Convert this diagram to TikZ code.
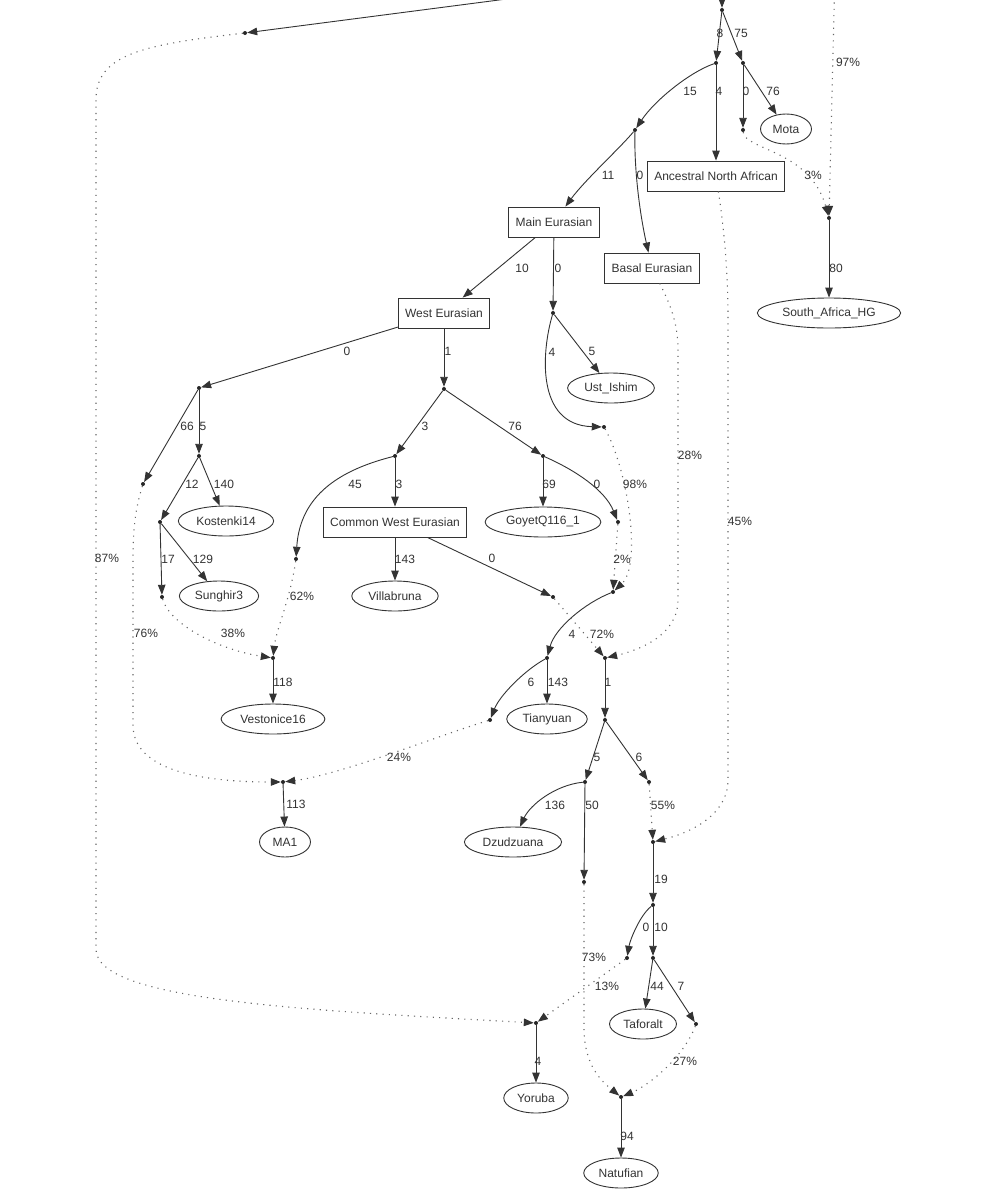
\documentclass[tikz,border=0pt]{standalone}
\usepackage{fontspec}
\setmainfont{Liberation Sans}
\usetikzlibrary{shapes.geometric, arrows.meta}

\begin{document}
\begin{tikzpicture}[
    x=1pt, y=-1pt,
    font=\fontsize{12}{14}\selectfont,
    box/.style={rectangle, draw=black!80, line width=0.9pt, inner xsep=6.8pt, minimum height=30pt, text=black!80},
    pop/.style={ellipse, draw=black!80, line width=0.9pt, inner xsep=4pt, inner ysep=0pt, minimum width=51pt, minimum height=30pt, text=black!80},
    pt/.style={circle, fill=black!85, inner sep=0pt, minimum size=4pt},
    arrow/.style={-{Triangle[length=10pt, width=7.5pt]}, line width=0.9pt, draw=black!80},
    mix/.style={-{Triangle[length=10pt, width=7.5pt, color=black!80]}, draw=black!60, line width=1.1pt, dash pattern=on 1.1pt off 5.2pt},
    lbl/.style={inner sep=0pt, text=black!80},
]
\useasboundingbox[fill=white] (0,0) rectangle (1004,1200);
\clip (0,0) rectangle (1004,1200);

% groups and samples
\node[box] (ana)     at (716,176) {Ancestral North African};
\node[box] (maineur) at (554,222) {Main Eurasian};
\node[box] (basal)   at (652,268) {Basal Eurasian};
\node[box] (westeur) at (444,313) {West Eurasian};
\node[box] (cwe)     at (395,522) {Common West Eurasian};
\node[pop] (mota)  at (786,129)  {Mota};
\node[pop] (sahg)  at (829,313)  {South\_Africa\_HG};
\node[pop] (ust)   at (611,388)  {Ust\_Ishim};
\node[pop] (goyet) at (543,522)  {GoyetQ116\_1};
\node[pop] (kost)  at (226,521)  {Kostenki14};
\node[pop] (sung)  at (219,596)  {Sunghir3};
\node[pop] (villa) at (395,596)  {Villabruna};
\node[pop] (vest)  at (273,719)  {Vestonice16};
\node[pop] (tian)  at (547,719)  {Tianyuan};
\node[pop] (ma1)   at (285,842)  {MA1};
\node[pop] (dzud)  at (513,842)  {Dzudzuana};
\node[pop] (taf)   at (643,1024) {Taforalt};
\node[pop] (yor)   at (536,1098) {Yoruba};
\node[pop] (nat)   at (621,1173) {Natufian};

% split points
\coordinate (up1) at (722,-29);
\coordinate (up2) at (835,-29);
\node[pt] (r0)  at (722,10) {};
\node[pt] (t1)  at (245,33) {};
\node[pt] (j1)  at (716,63) {};
\node[pt] (j2)  at (743,63) {};
\node[pt] (j3)  at (635,130) {};
\node[pt] (j4)  at (743,130) {};
\node[pt] (j5)  at (553,313) {};
\node[pt] (j6)  at (604,427) {};
\node[pt] (j7)  at (444,389) {};
\node[pt] (j8)  at (199,388) {};
\node[pt] (j9)  at (395,456) {};
\node[pt] (j10) at (543,456) {};
\node[pt] (j11) at (618,522) {};
\node[pt] (j12) at (553,597) {};
\node[pt] (j13) at (547,658) {};
\node[pt] (j14) at (143,484) {};
\node[pt] (j15) at (199,456) {};
\node[pt] (j16) at (160,522) {};
\node[pt] (j17) at (162,597) {};
\node[pt] (j18) at (296,559) {};
\node[pt] (j19) at (490,720) {};
\node[pt] (j20) at (605,720) {};
\node[pt] (j21) at (585,782) {};
\node[pt] (j22) at (649,782) {};
\node[pt] (j23) at (584,882) {};
\node[pt] (j24) at (653,905) {};
\node[pt] (j25) at (627,958) {};
\node[pt] (j26) at (653,958) {};
\node[pt] (j27) at (696,1024) {};

% admixture points
\node[pt] (mxS) at (829,218) {};
\node[pt] (mxA) at (613,592) {};
\node[pt] (mxB) at (605,658) {};
\node[pt] (mxV) at (273,658) {};
\node[pt] (mxM) at (283,782) {};
\node[pt] (mxC) at (653,842) {};
\node[pt] (mxY) at (536,1023) {};
\node[pt] (mxN) at (621,1097) {};

% tree edges
\draw[arrow] (up1) -- (r0);
\draw[arrow] (up1) -- (t1);
\draw[arrow] (r0) -- (j1) node[lbl] at (720,33) {8};
\draw[arrow] (r0) -- (j2) node[lbl] at (741,33) {75};
\draw[arrow] (j1) .. controls (690,72) and (655,100) .. (j3) node[lbl] at (690,91) {15};
\draw[arrow] (j1) -- (ana) node[lbl] at (719,91) {4};
\draw[arrow] (j2) -- (j4) node[lbl] at (746,91) {0};
\draw[arrow] (j2) -- (mota) node[lbl] at (773,91) {76};
\draw[arrow] (j3) .. controls (620,148) and (585,180) .. (maineur) node[lbl] at (608,175) {11};
\draw[arrow] (j3) .. controls (634,170) and (640,215) .. (basal) node[lbl] at (640,175) {0};
\draw[arrow] (mxS) -- (sahg) node[lbl] at (836,268) {80};
\draw[arrow] (maineur) -- (westeur) node[lbl] at (522,268) {10};
\draw[arrow] (maineur) -- (j5) node[lbl] at (558,268) {0};
\draw[arrow] (j5) .. controls (542,350) and (535,425) .. (j6) node[lbl] at (552,352) {4};
\draw[arrow] (j5) -- (ust) node[lbl] at (592,351) {5};
\draw[arrow] (westeur) -- (j8) node[lbl] at (347,351) {0};
\draw[arrow] (westeur) -- (j7) node[lbl] at (448,351) {1};
\draw[arrow] (j8) -- (j14) node[lbl] at (187,426) {66};
\draw[arrow] (j8) -- (j15) node[lbl] at (203,426) {5};
\draw[arrow] (j15) -- (j16) node[lbl] at (192,484) {12};
\draw[arrow] (j15) -- (kost) node[lbl] at (224,484) {140};
\draw[arrow] (j16) -- (j17) node[lbl] at (168,559) {17};
\draw[arrow] (j16) -- (sung) node[lbl] at (203,559) {129};
\draw[arrow] (j7) -- (j9) node[lbl] at (425,426) {3};
\draw[arrow] (j7) -- (j10) node[lbl] at (515,426) {76};
\draw[arrow] (j9) .. controls (340,470) and (300,495) .. (j18) node[lbl] at (355,484) {45};
\draw[arrow] (j9) -- (cwe) node[lbl] at (399,484) {3};
\draw[arrow] (cwe) -- (villa) node[lbl] at (405,559) {143};
\draw[arrow] (cwe) -- (j12) node[lbl] at (492,558) {0};
\draw[arrow] (j10) -- (goyet) node[lbl] at (549,484) {69};
\draw[arrow] (j10) .. controls (575,470) and (605,490) .. (j11) node[lbl] at (597,484) {0};
\draw[arrow] (mxA) .. controls (585,603) and (555,628) .. (j13) node[lbl] at (572,634) {4};
\draw[arrow] (mxV) -- (vest) node[lbl] at (283,682) {118};
\draw[arrow] (j13) .. controls (525,670) and (500,695) .. (j19) node[lbl] at (531,682) {6};
\draw[arrow] (j13) -- (tian) node[lbl] at (558,682) {143};
\draw[arrow] (mxM) -- (ma1) node[lbl] at (296,804) {113};
\draw[arrow] (mxB) -- (j20) node[lbl] at (608,682) {1};
\draw[arrow] (j20) -- (j21) node[lbl] at (597,757) {5};
\draw[arrow] (j20) -- (j22) node[lbl] at (639,757) {6};
\draw[arrow] (j21) .. controls (555,785) and (530,805) .. (dzud) node[lbl] at (555,805) {136};
\draw[arrow] (j21) -- (j23) node[lbl] at (592,805) {50};
\draw[arrow] (mxC) -- (j24) node[lbl] at (661,879) {19};
\draw[arrow] (j24) .. controls (640,915) and (630,940) .. (j25) node[lbl] at (646,927) {0};
\draw[arrow] (j24) -- (j26) node[lbl] at (661,927) {10};
\draw[arrow] (j26) -- (taf) node[lbl] at (657,986) {44};
\draw[arrow] (j26) -- (j27) node[lbl] at (681,986) {7};
\draw[arrow] (mxY) -- (yor) node[lbl] at (538,1061) {4};
\draw[arrow] (mxN) -- (nat) node[lbl] at (627,1136) {94};

% admixture edges
\draw[mix] (up2) -- (mxS) node[lbl] at (848,62) {97\%};
\draw[mix] (j4) .. controls (745,150) and (810,150) .. (mxS) node[lbl] at (813,175) {3\%};
\draw[mix] (ana) .. controls (722,215) and (728,260) .. (728,320) -- (728,780) .. controls (728,810) and (700,830) .. (mxC) node[lbl] at (740,521) {45\%};
\draw[mix] (basal) .. controls (668,300) and (678,320) .. (678,350) -- (678,600) .. controls (678,635) and (640,650) .. (mxB) node[lbl] at (690,455) {28\%};
\draw[mix] (j6) .. controls (628,470) and (642,565) .. (mxA) node[lbl] at (635,484) {98\%};
\draw[mix] (j11) -- (mxA) node[lbl] at (622,559) {2\%};
\draw[mix] (j12) -- (mxB) node[lbl] at (602,634) {72\%};
\draw[mix] (t1) .. controls (140,45) and (96,55) .. (96,100) -- (96,950) .. controls (98,1000) and (300,1010) .. (mxY) node[lbl] at (107,558) {87\%};
\draw[mix] (j14) .. controls (135,510) and (133,530) .. (133,560) -- (133,725) .. controls (133,770) and (200,782) .. (mxM) node[lbl] at (146,633) {76\%};
\draw[mix] (j17) .. controls (170,625) and (220,650) .. (mxV) node[lbl] at (233,633) {38\%};
\draw[mix] (j18) .. controls (290,600) and (276,630) .. (mxV) node[lbl] at (302,596) {62\%};
\draw[mix] (j19) .. controls (440,735) and (340,775) .. (mxM) node[lbl] at (399,757) {24\%};
\draw[mix] (j22) -- (mxC) node[lbl] at (663,805) {55\%};
\draw[mix] (j23) -- (584,1030) .. controls (585,1065) and (600,1080) .. (mxN) node[lbl] at (594,957) {73\%};
\draw[mix] (j25) -- (mxY) node[lbl] at (607,986) {13\%};
\draw[mix] (j27) .. controls (685,1055) and (650,1085) .. (mxN) node[lbl] at (685,1061) {27\%};

\end{tikzpicture}
\end{document}
